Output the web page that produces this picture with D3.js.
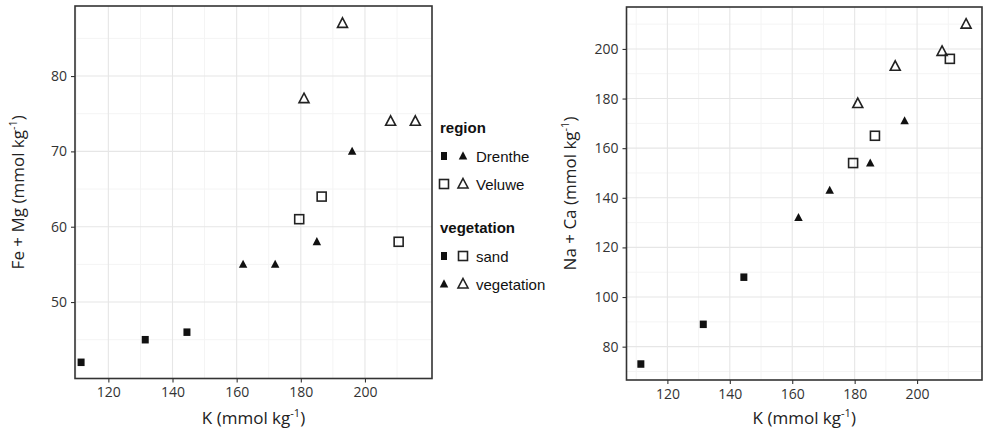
<!DOCTYPE html>
<html>
<head>
<meta charset="utf-8">
<script src="https://cdn.jsdelivr.net/npm/d3@7"></script>
<style>
  body { margin: 0; background: #fff; }
  svg { display: block; }
  .tick text { font-family: "Open Sans", sans-serif; font-size: 14px; fill: #333; }
  .axis-title { font-family: "Open Sans", sans-serif; font-size: 17px; fill: #222; }
  .legend text { font-family: "Liberation Sans", Arial, sans-serif; font-size: 15px; fill: #111; }
  .legend .title { font-weight: bold; }
</style>
</head>
<body>
<div id="chart"></div>
<script>
// ---- Data ----
var region = ['Drenthe', 'Drenthe', 'Drenthe', 'Drenthe', 'Drenthe', 'Drenthe', 'Drenthe',
              'Veluwe', 'Veluwe', 'Veluwe', 'Veluwe', 'Veluwe', 'Veluwe', 'Veluwe'];
var vegetation = ['sand', 'sand', 'sand', 'vegetation', 'vegetation', 'vegetation', 'vegetation',
                  'sand', 'sand', 'sand', 'vegetation', 'vegetation', 'vegetation', 'vegetation'];
var K =      [111.5, 131.5, 144.5, 162, 172, 185, 196, 179.5, 186.5, 210.5, 181, 193, 208, 215.7];
var FeMg =   [42, 45, 46, 55, 55, 58, 70, 61, 64, 58, 77, 87, 74, 74];
var NaCa =   [73, 89, 108, 132, 143, 154, 171, 154, 165, 196, 178, 193, 199, 210];

var xTicks = [120, 140, 160, 180, 200];
var yTicksLeft = [50, 60, 70, 80];
var yTicksRight = [80, 100, 120, 140, 160, 180, 200];

var W = 983, H = 433;

var svg = d3.select('#chart').append('svg')
  .attr('width', W).attr('height', H);

var points = K.map(function (k, i) {
  return { k: k, femg: FeMg[i], naca: NaCa[i], region: region[i], veg: vegetation[i] };
});

// symbol drawing: shape by vegetation, fill by region
function drawMarker(sel, veg, reg, cx, cy, legend) {
  var filled = reg === 'Drenthe';
  if (veg === 'sand') {
    var w = filled ? (legend ? 6 : 7) : 9;
    var h = filled ? (legend ? 8 : 7.5) : 9;
    sel.append('rect')
      .attr('x', cx - w / 2).attr('y', cy - h / 2)
      .attr('width', w).attr('height', h)
      .attr('fill', filled ? '#111' : 'none')
      .attr('stroke', filled ? 'none' : '#222')
      .attr('stroke-width', filled ? 0 : 1.6);
  } else {
    var s = filled ? 8.5 : 10;
    var tri = d3.path();
    tri.moveTo(cx, cy - s * 0.55);
    tri.lineTo(cx + s / 2, cy + s * 0.4);
    tri.lineTo(cx - s / 2, cy + s * 0.4);
    tri.closePath();
    sel.append('path')
      .attr('d', tri.toString())
      .attr('fill', filled ? '#111' : 'none')
      .attr('stroke', filled ? 'none' : '#222')
      .attr('stroke-width', filled ? 0 : 1.6)
      .attr('stroke-linejoin', 'miter');
  }
}

function kgTitle(textSel, label) {
  textSel.append('tspan').text(label + ' (mmol kg');
  textSel.append('tspan').attr('font-size', '11px').attr('dy', -7).text('-1');
  textSel.append('tspan').attr('dy', 7).text(')');
}

function panel(opts) {
  var x = d3.scaleLinear().domain(opts.xDomain).range([opts.left, opts.right]);
  var y = d3.scaleLinear().domain(opts.yDomain).range([opts.bottom, opts.top]);
  var g = svg.append('g');

  // minor grid
  var xMinor = xTicks.map(function (t) { return t - 10; }).concat([210]);
  var yMinor = opts.yTicks.map(function (t) { return t - opts.yStep / 2; })
    .concat([opts.yTicks[opts.yTicks.length - 1] + opts.yStep / 2])
    .filter(function (t) { return t > opts.yDomain[0] && t < opts.yDomain[1]; });

  g.selectAll('.vminor').data(xMinor).enter().append('line')
    .attr('x1', x).attr('x2', x).attr('y1', opts.top).attr('y2', opts.bottom)
    .attr('stroke', '#f4f4f4').attr('stroke-width', 1);
  g.selectAll('.hminor').data(yMinor).enter().append('line')
    .attr('y1', y).attr('y2', y).attr('x1', opts.left).attr('x2', opts.right)
    .attr('stroke', '#f4f4f4').attr('stroke-width', 1);
  g.selectAll('.vmajor').data(xTicks).enter().append('line')
    .attr('x1', x).attr('x2', x).attr('y1', opts.top).attr('y2', opts.bottom)
    .attr('stroke', '#e6e6e6').attr('stroke-width', 1.1);
  g.selectAll('.hmajor').data(opts.yTicks).enter().append('line')
    .attr('y1', y).attr('y2', y).attr('x1', opts.left).attr('x2', opts.right)
    .attr('stroke', '#e6e6e6').attr('stroke-width', 1.1);

  // points
  var pg = g.append('g');
  points.forEach(function (d) {
    drawMarker(pg, d.veg, d.region, x(d.k), y(d[opts.field]), false);
  });

  // frame
  g.append('rect')
    .attr('x', opts.left).attr('y', opts.top)
    .attr('width', opts.right - opts.left).attr('height', opts.bottom - opts.top)
    .attr('fill', 'none').attr('stroke', '#333').attr('stroke-width', 1.6);

  // axes
  var xAxis = d3.axisBottom(x).tickValues(xTicks).tickSize(4).tickPadding(5);
  var gx = g.append('g').attr('transform', 'translate(0,' + opts.bottom + ')').call(xAxis);
  gx.select('.domain').remove();
  gx.selectAll('.tick line').attr('stroke', '#333').attr('stroke-width', 1.1);

  var yAxis = d3.axisLeft(y).tickValues(opts.yTicks).tickSize(4).tickPadding(4);
  var gy = g.append('g').attr('transform', 'translate(' + opts.left + ',0)').call(yAxis);
  gy.select('.domain').remove();
  gy.selectAll('.tick line').attr('stroke', '#333').attr('stroke-width', 1.1);

  // titles
  var xt = g.append('text').attr('class', 'axis-title')
    .attr('x', (opts.left + opts.right) / 2).attr('y', 424)
    .attr('text-anchor', 'middle');
  kgTitle(xt, 'K');

  var yt = g.append('text').attr('class', 'axis-title')
    .attr('transform', 'translate(' + opts.yTitleX + ',' + ((opts.top + opts.bottom) / 2) + ') rotate(-90)')
    .attr('text-anchor', 'middle');
  kgTitle(yt, opts.yLabel);
}

panel({
  left: 75, right: 432, top: 6, bottom: 378.5,
  xDomain: [109.6, 220.9], yDomain: [39.85, 89.3],
  yTicks: yTicksLeft, yStep: 10, field: 'femg',
  yLabel: 'Fe + Mg', yTitleX: 24
});

panel({
  left: 626.5, right: 982, top: 7, bottom: 380,
  xDomain: [106.9, 220.8], yDomain: [66.56, 216.9],
  yTicks: yTicksRight, yStep: 20, field: 'naca',
  yLabel: 'Na + Ca', yTitleX: 576
});

// ---- Legend ----
var legendData = [
  { title: 'region', baseline: 133, items: [
    { label: 'Drenthe', marks: [['sand', 'Drenthe'], ['vegetation', 'Drenthe']], y: 156 },
    { label: 'Veluwe', marks: [['sand', 'Veluwe'], ['vegetation', 'Veluwe']], y: 184 }
  ]},
  { title: 'vegetation', baseline: 233, items: [
    { label: 'sand', marks: [['sand', 'Drenthe'], ['sand', 'Veluwe']], y: 256 },
    { label: 'vegetation', marks: [['vegetation', 'Drenthe'], ['vegetation', 'Veluwe']], y: 284 }
  ]}
];

var lg = svg.append('g').attr('class', 'legend');
legendData.forEach(function (sec) {
  lg.append('text').attr('class', 'title').attr('x', 440).attr('y', sec.baseline).text(sec.title);
  sec.items.forEach(function (it) {
    it.marks.forEach(function (m, j) {
      drawMarker(lg, m[0], m[1], 444 + j * 19, it.y, true);
    });
    lg.append('text').attr('x', 476).attr('y', it.y + 5.5).text(it.label);
  });
});
</script>
</body>
</html>
